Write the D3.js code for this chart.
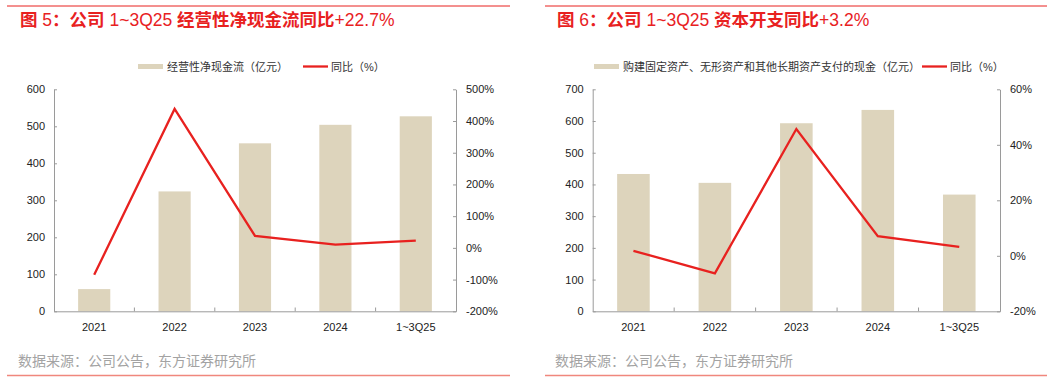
<!DOCTYPE html>
<html><head><meta charset="utf-8">
<script src="https://cdn.jsdelivr.net/npm/d3@7"></script>
<style>
body{margin:0;background:#fff;}
svg{display:block;}
text{font-family:"Liberation Sans",Arial,"Noto Sans CJK SC",sans-serif;}
</style></head>
<body>
<svg id="c" width="1062" height="382"></svg>
<script>
// ---- Data ----
const categories = ["2021","2022","2023","2024","1~3Q25"];
// Chart 1
const title1 = "图 5：公司 1~3Q25 经营性净现金流同比+22.7%";
const barName1 = "经营性净现金流（亿元）";
const lineName1 = "同比（%）";
const bars1 = [60, 324, 454, 504, 527];
const yoy1 = [-85, 438, 38, 10, 22.7];
const leftTicks1 = [0,100,200,300,400,500,600];
const rightTicks1 = [-200,-100,0,100,200,300,400,500];
// Chart 2
const title2 = "图 6：公司 1~3Q25 资本开支同比+3.2%";
const barName2 = "购建固定资产、无形资产和其他长期资产支付的现金（亿元）";
const lineName2 = "同比（%）";
const bars2 = [433, 405, 593, 635, 368];
const yoy2 = [1.8, -6.3, 45.7, 7.1, 3.2];
const leftTicks2 = [0,100,200,300,400,500,600,700];
const rightTicks2 = [-20,0,20,40,60];
const source = "数据来源：公司公告，东方证券研究所";

const RED = "#e8211f", BAR = "#ddd4bc", AX = "#9a9a9a", TXT = "#222";
const svg = d3.select("#c");

function richText(sel, str){
  // CJK runs bold, latin runs regular
  const runs = str.match(/[\u3000-\u9fff\uff00-\uffef]+|[^\u3000-\u9fff\uff00-\uffef]+/g);
  runs.forEach(r=>{
    const cjk = /[\u3000-\u9fff\uff00-\uffef]/.test(r);
    sel.append("tspan").text(r)
      .attr("font-family", cjk ? "'Noto Sans CJK SC'" : "'Liberation Sans', Arial")
      .attr("font-weight", cjk ? "bold" : "normal");
  });
}

function drawChart(o){
  const g = svg.append("g");
  // top rule
  g.append("line").attr("x1",o.ruleX0).attr("x2",o.ruleX1).attr("y1",6).attr("y2",6)
    .attr("stroke",RED).attr("stroke-width",1);
  // title
  const t = g.append("text").attr("x",o.titleX).attr("y",26).attr("fill",RED).attr("font-size",17.5);
  richText(t, o.title);
  // bottom rule
  g.append("line").attr("x1",o.ruleX0).attr("x2",o.ruleX1).attr("y1",375.5).attr("y2",375.5)
    .attr("stroke","#f0877d").attr("stroke-width",1.5);
  // source
  g.append("text").attr("x",o.titleX-2).attr("y",366).attr("fill","#a3a3a3")
    .attr("font-size",14).attr("font-family","'Noto Sans CJK SC'").text(source);

  const x = d3.scaleBand().domain(categories).range([o.x0,o.x1]).paddingInner(0.6).paddingOuter(0.3);
  const xb = d3.scaleBand().domain(categories).range([o.x0,o.x1]);
  const yL = d3.scaleLinear().domain(o.lDomain).range([311.3,89.3]);
  const yR = d3.scaleLinear().domain(o.rDomain).range([311.3,89.3]);

  // bars
  g.selectAll(".bar").data(o.bars).join("rect")
    .attr("x",(d,i)=>x(categories[i])).attr("width",x.bandwidth())
    .attr("y",d=>yL(d)).attr("height",d=>yL(0)-yL(d)).attr("fill",BAR);

  // left axis
  const la = g.append("g").attr("transform",`translate(${o.x0},0)`)
    .call(d3.axisLeft(yL).tickValues(o.lTicks).tickSizeInner(-3).tickSizeOuter(0).tickPadding(9));
  // right axis
  const ra = g.append("g").attr("transform",`translate(${o.x1},0)`)
    .call(d3.axisRight(yR).tickValues(o.rTicks).tickSizeInner(-3).tickSizeOuter(0).tickPadding(10)
      .tickFormat(d=>d+"%"));
  // x axis
  const xa = g.append("g").attr("transform",`translate(0,311.3)`)
    .call(d3.axisBottom(xb).tickSize(0).tickPadding(12));
  // category separator ticks (inside)
  g.selectAll(".sep").data(categories.slice(1)).join("line")
    .attr("x1",d=>xb(d)).attr("x2",d=>xb(d)).attr("y1",311.3).attr("y2",307.5)
    .attr("stroke",AX);
  [la,ra,xa].forEach(a=>{
    a.select(".domain").attr("stroke",AX);
    a.selectAll(".tick line").attr("stroke",AX);
    a.selectAll("text").attr("font-size",11).attr("fill",TXT)
      .attr("font-family","'Liberation Sans', Arial");
  });
  xa.selectAll("text").attr("dy","0.71em");

  // line
  const line = d3.line().x((d,i)=>xb(categories[i])+xb.bandwidth()/2).y(d=>yR(d));
  g.append("path").datum(o.yoy).attr("d",line).attr("fill","none")
    .attr("stroke",RED).attr("stroke-width",2.3).attr("stroke-linejoin","miter");

  // legend
  g.append("rect").attr("x",o.lg1).attr("y",64).attr("width",25).attr("height",5).attr("fill",BAR);
  g.append("text").attr("x",o.lg1+29).attr("y",70.5).attr("font-size",11).attr("fill","#333")
    .attr("font-family","'Noto Sans CJK SC'").text(o.barName);
  g.append("line").attr("x1",o.lg2).attr("x2",o.lg2+25).attr("y1",66.5).attr("y2",66.5)
    .attr("stroke",RED).attr("stroke-width",2.3);
  g.append("text").attr("x",o.lg2+28).attr("y",70.5).attr("font-size",11).attr("fill","#333")
    .attr("font-family","'Noto Sans CJK SC'").text(o.lineName);
}

drawChart({title:title1, titleX:20, ruleX0:7, ruleX1:510, x0:54, x1:456,
  lDomain:[0,600], rDomain:[-200,500], lTicks:leftTicks1, rTicks:rightTicks1,
  bars:bars1, yoy:yoy1, barName:barName1, lineName:lineName1, lg1:138, lg2:303});
drawChart({title:title2, titleX:557, ruleX0:545, ruleX1:1047, x0:592.7, x1:1000,
  lDomain:[0,700], rDomain:[-20,60], lTicks:leftTicks2, rTicks:rightTicks2,
  bars:bars2, yoy:yoy2, barName:barName2, lineName:lineName2, lg1:594, lg2:922});
</script>
</body></html>
